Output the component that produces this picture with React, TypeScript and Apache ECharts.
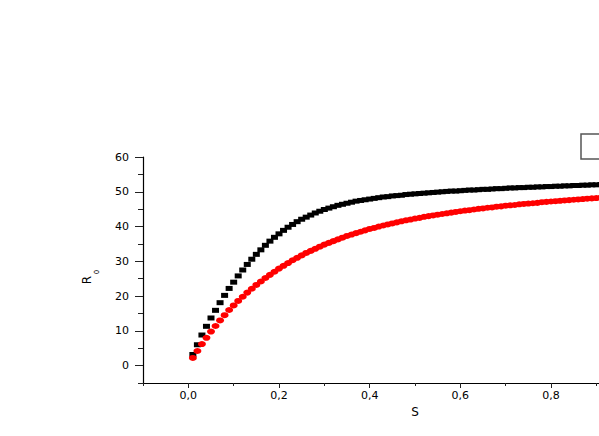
import React, { useEffect, useRef } from "react";
import * as echarts from "echarts";

const S = [
  0.01, 0.02, 0.03, 0.04, 0.05, 0.06, 0.07, 0.08, 0.09, 0.1,
  0.11, 0.12, 0.13, 0.14, 0.15, 0.16, 0.17, 0.18, 0.19, 0.2,
  0.21, 0.22, 0.23, 0.24, 0.25, 0.26, 0.27, 0.28, 0.29, 0.3,
  0.31, 0.32, 0.33, 0.34, 0.35, 0.36, 0.37, 0.38, 0.39, 0.4,
  0.41, 0.42, 0.43, 0.44, 0.45, 0.46, 0.47, 0.48, 0.49, 0.5,
  0.51, 0.52, 0.53, 0.54, 0.55, 0.56, 0.57, 0.58, 0.59, 0.6,
  0.61, 0.62, 0.63, 0.64, 0.65, 0.66, 0.67, 0.68, 0.69, 0.7,
  0.71, 0.72, 0.73, 0.74, 0.75, 0.76, 0.77, 0.78, 0.79, 0.8,
  0.81, 0.82, 0.83, 0.84, 0.85, 0.86, 0.87, 0.88, 0.89, 0.9,
  0.91, 0.92,
];

const blackR0 = [
  3.2, 6.0, 8.8, 11.3, 13.7, 15.9, 18.1, 20.2, 22.2, 24.0,
  25.8, 27.5, 29.1, 30.6, 32.0, 33.3, 34.6, 35.8, 36.9, 37.9,
  38.9, 39.8, 40.6, 41.4, 42.1, 42.7, 43.3, 43.9, 44.4, 44.9,
  45.3, 45.7, 46.1, 46.4, 46.7, 47.0, 47.3, 47.5, 47.7, 47.9,
  48.1, 48.3, 48.5, 48.6, 48.8, 48.9, 49.0, 49.2, 49.3, 49.4,
  49.5, 49.6, 49.7, 49.8, 49.9, 50.0, 50.1, 50.2, 50.2, 50.3,
  50.4, 50.5, 50.5, 50.6, 50.7, 50.7, 50.8, 50.9, 50.9, 51.0,
  51.1, 51.1, 51.2, 51.2, 51.3, 51.3, 51.4, 51.4, 51.5, 51.5,
  51.6, 51.6, 51.7, 51.7, 51.8, 51.8, 51.9, 51.9, 52.0, 52.0,
  52.1, 52.1,
];

const redR0 = [
  2.2, 4.2, 6.2, 8.0, 9.8, 11.4, 13.0, 14.5, 16.0, 17.3,
  18.6, 19.8, 21.0, 22.1, 23.2, 24.2, 25.2, 26.1, 27.0, 27.9,
  28.7, 29.5, 30.3, 31.0, 31.7, 32.4, 33.0, 33.6, 34.2, 34.8,
  35.3, 35.8, 36.3, 36.8, 37.3, 37.7, 38.1, 38.5, 38.9, 39.3,
  39.6, 40.0, 40.3, 40.6, 40.9, 41.2, 41.5, 41.8, 42.0, 42.3,
  42.5, 42.8, 43.0, 43.2, 43.4, 43.6, 43.8, 44.0, 44.2, 44.4,
  44.6, 44.7, 44.9, 45.1, 45.2, 45.4, 45.5, 45.7, 45.8, 46.0,
  46.1, 46.2, 46.4, 46.5, 46.6, 46.7, 46.8, 47.0, 47.1, 47.2,
  47.3, 47.4, 47.5, 47.6, 47.7, 47.8, 47.9, 48.0, 48.1, 48.2,
  48.3, 48.4,
];

const xMajorTicks = [0, 0.2, 0.4, 0.6, 0.8];
const xLabels = [0, 0.2, 0.4, 0.6, 0.8];
const xMinorTicks = [-0.1, 0.1, 0.3, 0.5, 0.7, 0.9];
const yMajorTicks = [0, 10, 20, 30, 40, 50, 60];
const yMinorTicks = [-5, 5, 15, 25, 35, 45, 55];

const FONT = "DejaVu Sans";

export default function App() {
  const ref = useRef<HTMLDivElement>(null);

  useEffect(() => {
    document.body.style.margin = "0";
    if (!ref.current) return;
    const chart = echarts.init(ref.current, null, { renderer: "svg" });
    const pair = (ys: number[]) => S.map((s, i) => [s, ys[i]]);
    chart.setOption({
      animation: false,
      backgroundColor: "#fff",
      grid: {
        left: 143,
        top: 157,
        width: 544,
        height: 226,
        containLabel: false,
        outerBoundsMode: "none",
      },
      xAxis: [
        {
          type: "value",
          min: -0.1,
          max: 1.1,
          position: "bottom",
          axisLine: { show: true, onZero: false, lineStyle: { color: "#000", width: 1.2 } },
          axisTick: { show: true, inside: false, length: 5, customValues: xMajorTicks, lineStyle: { color: "#222", width: 1 } },
          axisLabel: {
            customValues: xLabels,
            formatter: (v: number) => v.toFixed(1).replace(".", ","),
            fontFamily: FONT,
            fontSize: 11,
            color: "#000",
            margin: 7,
          },
          splitLine: { show: false },
          name: "S",
          nameLocation: "middle",
          nameGap: 23,
          nameTextStyle: { fontFamily: FONT, fontSize: 12, color: "#000" },
        },
        {
          type: "value",
          min: -0.1,
          max: 1.1,
          position: "bottom",
          offset: 0,
          axisLine: { show: false, onZero: false },
          axisTick: { show: true, inside: false, length: 3, customValues: xMinorTicks, lineStyle: { color: "#222", width: 1 } },
          axisLabel: { show: false },
          splitLine: { show: false },
        },
      ],
      yAxis: [
        {
          type: "value",
          min: -5,
          max: 60,
          position: "left",
          axisLine: { show: true, onZero: false, lineStyle: { color: "#000", width: 1.2 } },
          axisTick: { show: true, inside: false, length: 8, customValues: yMajorTicks, lineStyle: { color: "#222", width: 1 } },
          axisLabel: {
            customValues: yMajorTicks,
            formatter: (v: number) => String(v),
            fontFamily: FONT,
            fontSize: 11,
            color: "#000",
            margin: 14,
          },
          splitLine: { show: false },
        },
        {
          type: "value",
          min: -5,
          max: 60,
          position: "left",
          offset: 0,
          axisLine: { show: false, onZero: false },
          axisTick: { show: true, inside: false, length: 5, customValues: yMinorTicks, lineStyle: { color: "#222", width: 1 } },
          axisLabel: { show: false },
          splitLine: { show: false },
        },
      ],
      series: [
        {
          type: "scatter",
          name: "black",
          xAxisIndex: 0,
          yAxisIndex: 0,
          symbol: "rect",
          symbolSize: [7, 5],
          itemStyle: { color: "#000", opacity: 1 },
          data: pair(blackR0),
        },
        {
          type: "scatter",
          name: "red",
          xAxisIndex: 0,
          yAxisIndex: 0,
          symbol: "circle",
          symbolSize: [8, 6],
          itemStyle: { color: "#ff0000", opacity: 1 },
          data: pair(redR0),
        },
      ],
      graphic: [
        {
          type: "rect",
          shape: { x: 581, y: 134, width: 40, height: 25 },
          style: { fill: "#fff", stroke: "#555", lineWidth: 1.5 },
          z: 10,
        },
        {
          type: "text",
          x: 87,
          y: 280,
          rotation: Math.PI / 2,
          style: { text: "R", fontFamily: FONT, fontSize: 12, fill: "#000", align: "center", verticalAlign: "middle" },
        },
        {
          type: "text",
          x: 97,
          y: 272,
          rotation: Math.PI / 2,
          style: { text: "0", fontFamily: FONT, fontSize: 7, fill: "#000", align: "center", verticalAlign: "middle" },
        },
      ],
    });
    return () => chart.dispose();
  }, []);

  return <div ref={ref} style={{ width: 599, height: 436 }} />;
}
